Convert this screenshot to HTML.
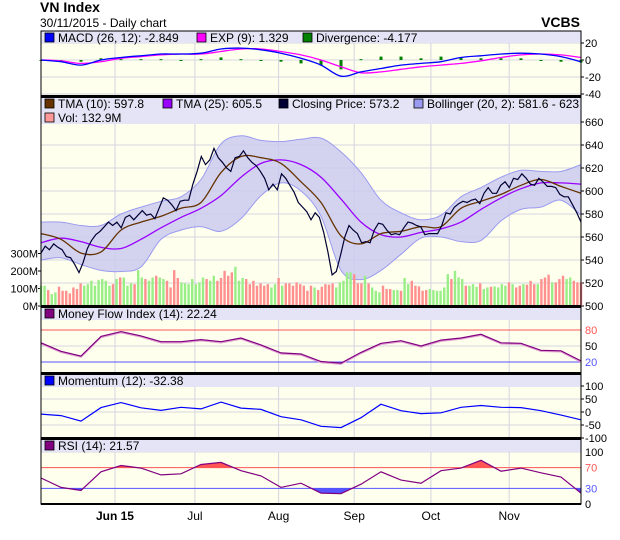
<!DOCTYPE html>
<html><head><meta charset="utf-8"><style>
body{margin:0;background:#fff;width:620px;height:535px;overflow:hidden}
svg text{font-family:"Liberation Sans",sans-serif}
</style></head><body>
<svg id="c" width="620" height="535" xmlns="http://www.w3.org/2000/svg"></svg>
<script>
const closePrice=[546,552,549,554,551,549,543,542,536,529,538,550,557,562,565,569,573,570,573,568,577,579,575,579,583,579,580,576,585,594,592,588,583,591,592,592,606,617,630,623,627,637,629,625,620,617,629,630,635,629,625,622,617,611,601,606,601,615,611,605,599,590,586,582,575,
581,577,564,547,527,530,544,560,570,566,563,555,556,555,566,572,571,566,562,563,562,568,573,572,570,569,562,563,563,563,570,581,580,586,589,591,590,592,593,589,598,603,598,598,605,608,603,611,610,615,611,606,605,611,608,604,604,603,597,595,595,588,581,573];
const tma10=[563,558,546,547,566,573,578,585,590,616,630,629,624,608,590,561,554,563,565,569,569,585,591,597,605,610,604,598];
const tma25=[555,559,556,551,550,558,568,577,585,596,612,624,627,623,612,593,573,562,560,564,567,573,584,594,602,607,607,606];
const bollUpper=[573,573,570,570,580,586,591,595,610,641,648,644,643,645,646,634,616,592,581,575,579,595,603,612,618,617,617,623];
const bollLower=[540,542,536,531,530,534,558,566,569,565,576,596,607,600,578,531,523,531,545,559,560,556,557,574,584,586,592,579];
const volume=[116,116,91,68,78,110,87,87,72,106,97,129,116,125,144,116,148,154,144,116,125,154,163,163,116,129,125,205,163,154,144,163,173,163,154,144,106,205,160,135,129,125,154,125,135,163,154,144,173,144,160,201,173,192,224,144,160,154,125,144,116,129,116,125,106,125,160,116,129,129,116,135,125,116,87,116,106,91,110,125,122,129,106,
135,144,192,192,182,129,129,173,129,106,87,78,116,97,97,91,91,87,160,125,144,116,112,87,91,97,91,87,87,106,182,154,201,163,154,116,116,125,110,129,97,106,110,112,106,125,116,135,125,106,116,125,122,144,125,125,154,163,179,135,135,154,173,154,163,144,135,135];
const macd=[0,-2,-6,0,3,5,7,7,8,13,14,12,8,2,-6,-19,-14,-10,-6,-4,-2,3,5,7,8,7,4,-2];
const macdSignal=[0,-1,-4,-2,2,4,6,7,7,10,13,13,10,6,0,-8,-15,-14,-11,-8,-6,-4,-1,3,6,7,6,3];
const divergence=[0,-1,-2,2,1,1,1,0,1,3,1,-1,-2,-4,-6,-11,1,4,4,2,4,3,2,2,2,0,-2,-3];
const mfi=[56,40,31,68,77,69,58,58,62,58,65,52,37,35,21,18,38,55,60,50,61,65,72,56,55,42,41,22];
const momentum=[-8,-14,-35,17,36,16,6,18,12,38,15,10,-18,-30,-55,-60,-22,30,5,-6,-3,18,25,18,17,5,-12,-30];
const rsi=[50,32,26,62,74,69,56,58,76,80,64,54,32,40,21,20,38,62,46,40,64,69,84,63,69,60,52,21];
const monthLabels=["Jun 15","Jul","Aug","Sep","Oct","Nov"];
const monthPos=[0.137,0.285,0.440,0.580,0.722,0.867];
const priceTicks=[660,640,620,600,580,560,540,520,500];
const volTicks=[0,100,200,300];
const macdTicks=[20,0,-20,-40];

const NS="http://www.w3.org/2000/svg";
const svg=document.getElementById('c');
const X0=41,X1=581;
function el(t,a,p){const e=document.createElementNS(NS,t);for(const k in a)e.setAttribute(k,a[k]);(p||svg).appendChild(e);return e;}
function txt(x,y,s,a){const e=el('text',Object.assign({x:x,y:y,'font-size':11,fill:'#000'},a||{}));e.textContent=s;return e;}
function xs(n){return i=>X0+i*(X1-X0)/(n-1);}
function lin(v0,y0,v1,y1){return v=>y0+(v-v0)*(y1-y0)/(v1-v0);}
function pts(arr,yf){const xf=xs(arr.length);return arr.map((v,i)=>xf(i).toFixed(1)+','+yf(v).toFixed(1)).join(' ');}
function xy(arr,yf){const xf=xs(arr.length);return arr.map((v,i)=>[xf(i),yf(v)]);}
function smooth(p){let d='M'+p[0][0].toFixed(1)+','+p[0][1].toFixed(1);for(let i=0;i<p.length-1;i++){const a=p[Math.max(i-1,0)],b=p[i],c=p[i+1],e=p[Math.min(i+2,p.length-1)];
const c1=[b[0]+(c[0]-a[0])/6,b[1]+(c[1]-a[1])/6],c2=[c[0]-(e[0]-b[0])/6,c[1]-(e[1]-b[1])/6];
d+=' C'+c1[0].toFixed(1)+','+c1[1].toFixed(1)+' '+c2[0].toFixed(1)+','+c2[1].toFixed(1)+' '+c[0].toFixed(1)+','+c[1].toFixed(1);}return d;}
function smoothBody(p){return smooth(p).slice(1);}

const panels=[{n:'macd',top:31,bot:96},{n:'price',top:97,bot:306},{n:'mfi',top:307,bot:373},{n:'momentum',top:374,bot:438},{n:'rsi',top:439,bot:504}];
panels.forEach(p=>{
  const r=el('rect',{x:X0,y:p.top,width:X1-X0,height:p.bot-p.top,fill:'#ffffee'});
  
  
  monthPos.forEach(f=>el('line',{x1:X0+f*(X1-X0),x2:X0+f*(X1-X0),y1:p.top,y2:p.bot,stroke:'#d4d4e0','stroke-width':1}));
});
function hgrid(yv,top,bot){if(yv>top+1&&yv<bot-1)el('line',{x1:X0,x2:X1,y1:yv,y2:yv,stroke:'#d4d4e0'});}

// MACD
const yM=lin(0,60,20,43);
macdTicks.forEach(t=>{hgrid(yM(t),31,96);const l=txt(585,yM(t)+4,String(t));el('line',{x1:X1,x2:X1+3,y1:yM(t),y2:yM(t),stroke:'#000'});});
(function(){const xf=xs(divergence.length);divergence.forEach((v,i)=>{const y=yM(Math.max(v,0)),h=Math.max(1,Math.abs(yM(v)-yM(0)));const b=el('rect',{x:xf(i)-1.5,y:y,width:3,height:h,fill:'#008000'});});})();
let l1=el('path',{d:smooth(xy(macdSignal,yM)),fill:'none',stroke:'#ff00ff','stroke-width':1.3});
let l2=el('path',{d:smooth(xy(macd,yM)),fill:'none',stroke:'#0000ff','stroke-width':1.3});

// Price
const yP=lin(500,306,660,122);
priceTicks.forEach(t=>{hgrid(yP(t),97,306);const l=txt(585,yP(t)+4,String(t));el('line',{x1:X1,x2:X1+3,y1:yP(t),y2:yP(t),stroke:'#000'});});
(function(){const up=xy(bollUpper,yP),lo=xy(bollLower,yP).reverse();
const d=smooth(up)+' L'+lo[0][0]+','+lo[0][1]+' '+smoothBody(lo)+' Z';
const b=el('path',{d:d,fill:'#c8c8f0','fill-opacity':0.8,stroke:'#9a9af0','stroke-width':1});})();
const yV=lin(0,306,100,288.5);
volTicks.forEach(t=>{const l=txt(38,yV(t)+4,t+'M',{'text-anchor':'end'});el('line',{x1:X0-3,x2:X0,y1:yV(t),y2:yV(t),stroke:'#000'});});
(function(){const xf=xs(volume.length);const nc=closePrice.length;volume.forEach((v,i)=>{const ci=Math.round(i*(nc-1)/(volume.length-1));const up=ci>0?closePrice[ci]>=closePrice[ci-1]:true;const b=el('rect',{x:xf(i)-1.2,y:yV(v),width:2.4,height:yV(0)-yV(v),fill:up?'#99ee88':'#ff9090'});});})();
let l3=el('path',{d:smooth(xy(tma25,yP)),fill:'none',stroke:'#9900ff','stroke-width':1.3});
let l4=el('path',{d:smooth(xy(tma10,yP)),fill:'none',stroke:'#663300','stroke-width':1.3});
let l5=el('polyline',{points:pts(closePrice,yP),fill:'none',stroke:'#000033','stroke-width':1.2});

// MFI
const yF=lin(20,362,80,330);
[[80,'#ff5555'],[50,'#000'],[20,'#5555ff']].forEach(([t,c])=>{el('line',{x1:X0,x2:X1,y1:yF(t),y2:yF(t),stroke:t==50?'#d4d4e0':c});const l=txt(585,yF(t)+4,String(t),{fill:c});});
el('polyline',{points:pts(mfi,v=>yF(v)+1),fill:'none',stroke:'#e0a0d0','stroke-width':1.5});
let l7=el('polyline',{points:pts(mfi,yF),fill:'none',stroke:'#800080','stroke-width':1.2});

// Momentum
const yMo=lin(0,412,100,386);
[100,50,0,-50,-100].forEach(t=>{hgrid(yMo(t),374,438);const l=txt(585,yMo(t)+4,String(t));el('line',{x1:X1,x2:X1+3,y1:yMo(t),y2:yMo(t),stroke:'#000'});});
let l8=el('polyline',{points:pts(momentum,yMo),fill:'none',stroke:'#0000ff','stroke-width':1.2});

// RSI
const yR=lin(0,504,100,452);
const defs=el('defs',{});
const cpA=el('clipPath',{id:'above70'},defs);el('rect',{x:X0,y:439,width:X1-X0,height:yR(70)-439},cpA);
const cpB=el('clipPath',{id:'below30'},defs);el('rect',{x:X0,y:yR(30),width:X1-X0,height:504-yR(30)},cpB);
(function(){const p=pts(rsi,yR);
const a=el('polygon',{points:X0+','+yR(70)+' '+p+' '+X1+','+yR(70),fill:'#ff5555','clip-path':'url(#above70)'});
const b=el('polygon',{points:X0+','+yR(30)+' '+p+' '+X1+','+yR(30),fill:'#5555ff','clip-path':'url(#below30)'});})();
[[100,'#000'],[70,'#ff5555'],[30,'#5555ff'],[0,'#000']].forEach(([t,c])=>{if(t==70||t==30)el('line',{x1:X0,x2:X1,y1:yR(t),y2:yR(t),stroke:c});else hgrid(yR(t),439,504);const l=txt(585,yR(t)+4,String(t),{fill:c});});
let l9=el('polyline',{points:pts(rsi,yR),fill:'none',stroke:'#800080','stroke-width':1.2});

// headers
function header(top,h){el('rect',{x:X0,y:top,width:X1-X0,height:h,fill:'#e4e4f6'});}
function legend(x,y,color,label,name){el('rect',{x:x,y:y-9,width:9,height:9,fill:color,stroke:'#000','stroke-width':0.8});const t=txt(x+13,y,label,{'font-size':12});}
header(31,12);header(97,27);header(307,13);header(374,13);header(439,13);
legend(45,42,'#0000ff','MACD (26, 12): -2.849','legend-macd');
legend(197,42,'#ff00ff','EXP (9): 1.329','legend-exp');
legend(303,42,'#008000','Divergence: -4.177','legend-divergence');
legend(45,108,'#663300','TMA (10): 597.8','legend-tma-10');
legend(163,108,'#9900ff','TMA (25): 605.5','legend-tma-25');
legend(279,108,'#000033','Closing Price: 573.2','legend-closing-price');
legend(414,108,'#9a9af0','Bollinger (20, 2): 581.6 - 623','legend-bollinger');
legend(45,122,'#ff9999','Vol: 132.9M','legend-volume');
legend(45,318,'#800080','Money Flow Index (14): 22.24','legend-mfi');
legend(45,385,'#0000ff','Momentum (12): -32.38','legend-momentum');
legend(45,450,'#800080','RSI (14): 21.57','legend-rsi');

panels.forEach(p=>{el('rect',{x:X0,y:p.top,width:X1-X0,height:p.bot-p.top,fill:'none',stroke:'#000','stroke-width':1});});
[96.5,306.5,373.5,438.5].forEach(y=>el('line',{x1:X0,x2:X1,y1:y,y2:y,stroke:'#000','stroke-width':3}));
el('line',{x1:X0,x2:X1,y1:504,y2:504,stroke:'#000','stroke-width':2});

monthLabels.forEach((m,i)=>{const l=txt(X0+monthPos[i]*(X1-X0),520,m,{'text-anchor':'middle','font-size':12,'font-weight':i==0?'bold':'normal'});});

let t1=txt(40,12,'VN Index',{'font-size':14,'font-weight':'bold'});
let t2=txt(40,27,'30/11/2015 - Daily chart',{'font-size':12});
let t3=txt(580,27,'VCBS',{'font-size':14,'font-weight':'bold','text-anchor':'end'});
</script>
</body></html>
